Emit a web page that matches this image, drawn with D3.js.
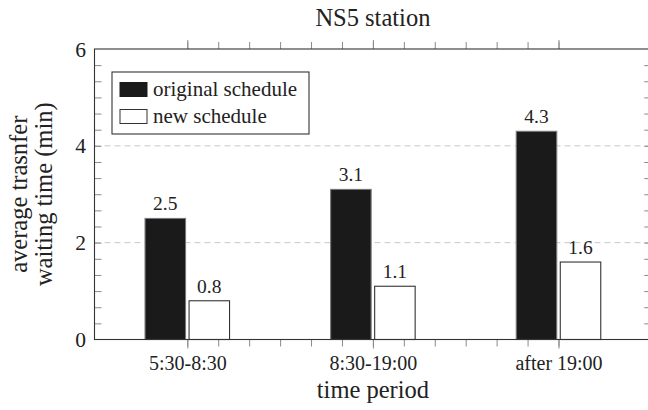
<!DOCTYPE html>
<html>
<head>
<meta charset="utf-8">
<script src="https://cdn.jsdelivr.net/npm/d3@7"></script>
</head>
<body style="margin:0; background:#fff">
<div id="chart"></div>
<script>
// data
var categories   = ["5:30-8:30", "8:30-19:00", "after 19:00"];
var seriesNames  = ["original schedule", "new schedule"];
var originalVals = [2.5, 3.1, 4.3];
var newVals      = [0.8, 1.1, 1.6];
var yTickVals    = [0, 2, 4, 6];
var gridVals     = [2, 4];

var chart_width  = 648;
var chart_height = 410;
var plotL = 94.5, plotR = 651.3, plotT = 49, plotB = 339.5;
var FONT = "'Liberation Serif', 'Times New Roman', serif";

var svg = d3.select("#chart")
    .append("svg")
    .attr("width", chart_width)
    .attr("height", chart_height);

// scales
var x0 = d3.scaleBand().domain(categories).range([plotL, plotR]);
var xi = d3.scaleLinear().domain([-0.5, 2.5]).range([plotL, plotR]);   // category index scale for ticks
var x1 = d3.scaleBand().domain(seriesNames).range([-42.25, 42.25]).paddingInner(0.08);
var y  = d3.scaleLinear().domain([0, 6]).range([plotB, plotT]);

var fills   = { "original schedule": "#1a1a1a", "new schedule": "#ffffff" };
var strokes = { "original schedule": "#777", "new schedule": "#333" };

function addText(sel, size) {
    return sel.style("font-family", FONT).style("font-size", size + "px").attr("fill", "#222");
}

// grid
svg.append("g").selectAll("line")
    .data(gridVals)
    .enter()
    .append("line")
    .attr("x1", plotL).attr("x2", plotR)
    .attr("y1", function(d){ return y(d); })
    .attr("y2", function(d){ return y(d); })
    .attr("stroke", "#c8c8c8")
    .attr("stroke-width", 1)
    .attr("stroke-dasharray", "6,4");

// minor ticks y (inward, both sides)
var yMinor = d3.range(1, 18).map(function(k){ return k / 3; });
svg.append("g")
    .attr("transform", "translate(" + plotL + ",0)")
    .call(d3.axisRight(y).tickValues(yMinor).tickSize(7).tickFormat(""));
svg.append("g")
    .attr("transform", "translate(" + plotR + ",0)")
    .call(d3.axisLeft(y).tickValues(yMinor).tickSize(7).tickFormat(""));

// x ticks (outward, bottom and top)
var xMinor = d3.range(0, 13).map(function(k){ return k / 6; });
svg.append("g")
    .attr("transform", "translate(0," + plotB + ")")
    .call(d3.axisBottom(xi).tickValues(xMinor).tickSize(7).tickFormat(""));
svg.append("g")
    .attr("transform", "translate(0," + plotT + ")")
    .call(d3.axisTop(xi).tickValues(xMinor).tickSize(7).tickFormat(""));
var xMajor = svg.append("g")
    .attr("transform", "translate(0," + plotB + ")")
    .call(d3.axisBottom(xi).tickValues([0, 1, 2]).tickSize(9)
        .tickFormat(function(i){ return categories[i]; }));
svg.append("g")
    .attr("transform", "translate(0," + plotT + ")")
    .call(d3.axisTop(xi).tickValues([0, 1, 2]).tickSize(9).tickFormat(""));

svg.selectAll(".domain").remove();
svg.selectAll(".tick line").attr("stroke", "#8a8a8a");
addText(xMajor.selectAll(".tick text").attr("y", 30.5).attr("dy", null), 20);

// bars
var groups = svg.append("g").selectAll("g")
    .data(categories)
    .enter()
    .append("g")
    .attr("transform", function(d){ return "translate(" + (x0(d) + x0.bandwidth() / 2) + ",0)"; });

var bars = groups.selectAll("rect")
    .data(function(d, i){
        return [
            { s: seriesNames[0], v: originalVals[i] },
            { s: seriesNames[1], v: newVals[i] }
        ];
    })
    .enter();

bars.append("rect")
    .attr("x", function(d){ return x1(d.s); })
    .attr("width", x1.bandwidth())
    .attr("y", function(d){ return y(d.v); })
    .attr("height", function(d){ return y(0) - y(d.v); })
    .attr("fill", function(d){ return fills[d.s]; })
    .attr("stroke", function(d){ return strokes[d.s]; })
    .attr("stroke-width", 1.1);

addText(bars.append("text")
    .attr("x", function(d){ return x1(d.s) + x1.bandwidth() / 2; })
    .attr("y", function(d){ return y(d.v) - 8; })
    .attr("text-anchor", "middle"), 19.5)
    .text(function(d){ return d.v.toFixed(1); });

// frame
svg.append("rect")
    .attr("x", plotL).attr("y", plotT)
    .attr("width", plotR - plotL).attr("height", plotB - plotT)
    .attr("fill", "none")
    .attr("stroke", "#333")
    .attr("stroke-width", 1.1);

// y tick labels
addText(svg.append("g").selectAll("text")
    .data(yTickVals)
    .enter()
    .append("text")
    .attr("x", 86)
    .attr("y", function(d){ return y(d) + 7.5; })
    .attr("text-anchor", "end"), 21.5)
    .text(function(d){ return d; });

// legend
var legend = svg.append("g");
legend.append("rect")
    .attr("x", 112).attr("y", 72)
    .attr("width", 197).attr("height", 62)
    .attr("fill", "#fff")
    .attr("stroke", "#333")
    .attr("stroke-width", 1.1);
seriesNames.forEach(function(s, i){
    legend.append("rect")
        .attr("x", 120).attr("y", 82.5 + i * 27)
        .attr("width", 27).attr("height", 14)
        .attr("fill", fills[s])
        .attr("stroke", i === 0 ? "#1a1a1a" : "#333")
        .attr("stroke-width", 1);
    addText(legend.append("text")
        .attr("x", 153).attr("y", 95.5 + i * 27), 21)
        .text(s);
});

// titles
addText(svg.append("text")
    .attr("x", (plotL + plotR) / 2).attr("y", 26)
    .attr("text-anchor", "middle"), 24.5)
    .text("NS5 station");

addText(svg.append("text")
    .attr("x", (plotL + plotR) / 2).attr("y", 398)
    .attr("text-anchor", "middle"), 24.5)
    .text("time period");

var ylab = addText(svg.append("text")
    .attr("transform", "translate(0," + ((plotT + plotB) / 2) + ") rotate(-90)")
    .attr("text-anchor", "middle"), 24.5);
ylab.append("tspan").attr("x", 0).attr("y", 27).text("average trasnfer");
ylab.append("tspan").attr("x", 0).attr("y", 52).text("waiting time (min)");
</script>
</body>
</html>
